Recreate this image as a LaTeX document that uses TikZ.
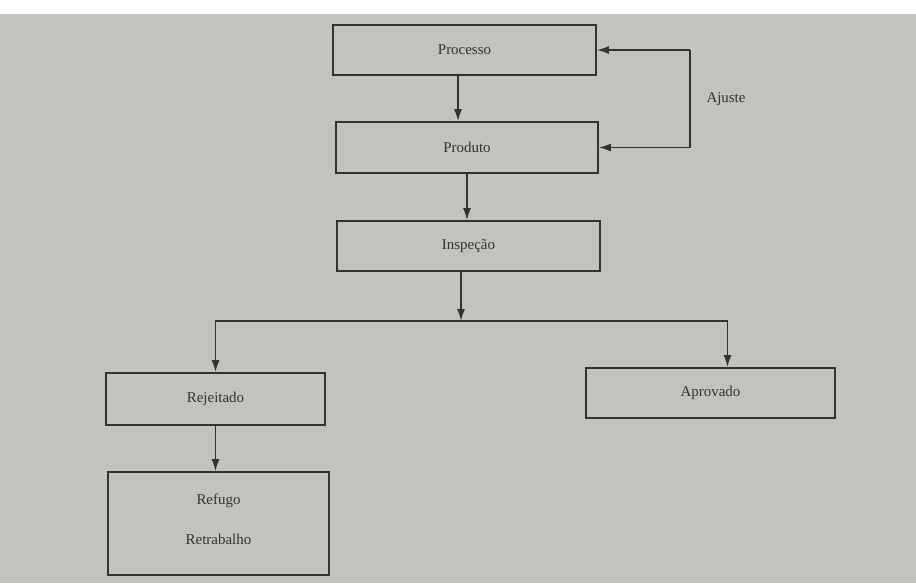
\documentclass[tikz,border=0pt]{standalone}
\usepackage{fontspec}
\setmainfont{Liberation Serif}
\definecolor{PaperGray}{RGB}{194,194,190}
\definecolor{InkGray}{RGB}{50,50,50}
\usetikzlibrary{positioning, arrows.meta}

\begin{document}
\begin{tikzpicture}[x=0.02cm, y=-0.02cm,
    box/.style={draw=InkGray, line width=1pt, fill=PaperGray, inner sep=0pt, text=InkGray, font=\fontsize{8.5}{10}\selectfont},
    flow/.style={-{Latex[length=2.4mm,width=1.6mm]}, line width=1pt, draw=InkGray}]
          \fill[white] (0,0) rectangle (916,583);
          \fill[PaperGray] (0,14) rectangle (916,583);
          \useasboundingbox (0,0) rectangle (916,583);
          % main line
          \node[box, minimum width=5.26cm, minimum height=1cm] (processo) at (464.5,50) {Processo};
          \node[box, minimum width=5.24cm, minimum height=1.02cm] (produto) at (467,147.5) {Produto};
          \node[box, minimum width=5.26cm, minimum height=1cm] (inspecao) at (468.5,246) {Inspeção};
          \node[box, minimum width=4.38cm, minimum height=1.04cm] (rejeitado) at (215.5,399) {Rejeitado};
          \node[box, minimum width=4.98cm, minimum height=1cm] (aprovado) at (710.5,393) {Aprovado};
          \node[box, minimum width=4.42cm, minimum height=2.06cm, align=center] (refugo) at (218.5,523.5) {Refugo\\[13pt]Retrabalho\\[-5pt]\mbox{}};
          \node[text=InkGray, font=\fontsize{8.5}{10}\selectfont] (ajuste) at (726,99) {Ajuste};
          \coordinate (split) at (461,321);
          \coordinate (ajA) at (690,50);
          \coordinate (ajB) at (690,147.5);
          \draw[flow] ([xshift=-0.13cm]processo.south) -- ([xshift=-0.13cm]processo.south |- produto.north);
          \draw[flow] (produto.south) -- (produto.south |- inspecao.north);
          \draw[flow] (inspecao.south -| split) -- (split);
          \draw[flow] (split) -| (rejeitado.north);
          \draw[flow] (split) -| ([xshift=0.34cm]aprovado.north);
          \draw[flow] (rejeitado.south) -- (rejeitado.south |- refugo.north);
          % ajuste loop
          \draw[flow] (ajA) -- (processo.east);
          \draw[flow] (ajA) -- (ajB) -- (produto.east);
        \end{tikzpicture}
\end{document}
